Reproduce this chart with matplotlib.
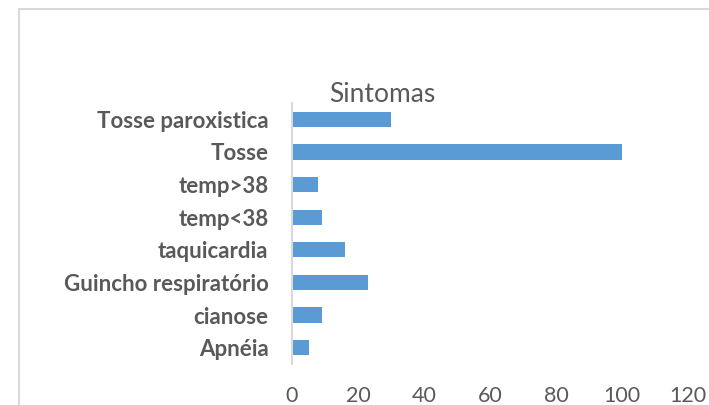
import matplotlib.pyplot as plt
from matplotlib.patches import Rectangle

# symptom counts, bottom to top as in the chart
categories = ['Apnéia', 'cianose', 'Guincho respiratório', 'taquicardia',
              'temp<38', 'temp>38', 'Tosse', 'Tosse paroxistica']
values = [5, 9, 23, 16, 9, 8, 100, 30]
xticks = [0, 20, 40, 60, 80, 100, 120]

W, H = 709, 405
fig = plt.figure(figsize=(W / 100, H / 100), dpi=100)
plt.rcParams['font.family'] = ['Lato', 'DejaVu Sans']

text_col = '#595959'
grid_col = '#d9d9d9'

# chart area border (cropped on the right and bottom)
fig.patches.append(Rectangle((18.5 / W, -0.1), 1.2, (H - 8.5) / H + 0.1,
                             transform=fig.transFigure, fill=False,
                             edgecolor=grid_col, linewidth=1.5))

ax = fig.add_axes([292 / W, (H - 364) / H, (688 - 292) / W, (364 - 103) / H])
ax.barh(range(len(categories)), values, height=0.47, color='#5b9bd5')

ax.set_xlim(0, 120)
ax.set_ylim(-0.5, len(categories) - 0.5)
ax.set_xticks(xticks)
ax.set_yticks(range(len(categories)))
ax.set_yticklabels(categories, fontsize=16, fontweight='bold', color=text_col)
ax.tick_params(axis='x', length=0, pad=16, labelsize=15.5, labelcolor=text_col)
ax.tick_params(axis='y', length=0, pad=17)

for s in ['top', 'right', 'bottom']:
    ax.spines[s].set_visible(False)
ax.spines['left'].set_color(grid_col)
ax.spines['left'].set_linewidth(1.5)

fig.text(382 / W, (H - 94) / H, 'Sintomas', ha='center', va='center',
         fontsize=19, color=text_col)

fig.savefig('out.png', dpi=100)
